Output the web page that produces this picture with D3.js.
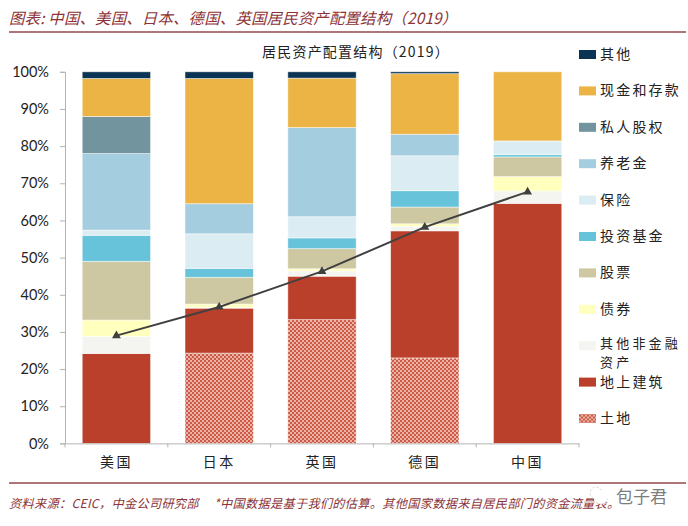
<!DOCTYPE html>
<html>
<head>
<meta charset="utf-8">
<script src="https://cdnjs.cloudflare.com/ajax/libs/d3/7.8.5/d3.min.js"></script>
<style>
  html, body { margin: 0; padding: 0; background: #fff; }
  svg { display: block; }
</style>
</head>
<body>
<svg id="chart" width="688" height="526"></svg>
<script>
// Household asset allocation by country, 2019 (percentage points per asset class)
const countries = ["美国", "日本", "英国", "德国", "中国"];
const land      = [0, 24.3, 33.3, 23.0, 0];
const building  = [24.2, 12.1, 11.7, 34.2, 64.6];
const nonFin    = [4.6, 0.2, 1.4, 1.2, 3.3];
const bonds     = [4.4, 0.9, 0.6, 0.7, 3.9];
const stocks    = [15.8, 7.2, 5.4, 4.5, 5.3];
const funds     = [7.0, 2.4, 2.9, 4.4, 0.6];
const insurance = [1.4, 9.3, 5.7, 9.4, 3.7];
const pension   = [20.6, 8.1, 24.0, 5.8, 0];
const privateEq = [10.0, 0, 0, 0, 0];
const cash      = [10.2, 33.7, 13.3, 16.3, 18.6];
const other     = [1.8, 1.8, 1.7, 0.5, 0];
const landBuildingShare = [29.0, 36.7, 46.3, 58.2, 67.7];
const yTicks = [0, 10, 20, 30, 40, 50, 60, 70, 80, 90, 100];

const seriesNames = ["土地", "地上建筑", "其他非金融资产", "债券", "股票", "投资基金", "保险", "养老金", "私人股权", "现金和存款", "其他"];
const seriesValues = [land, building, nonFin, bonds, stocks, funds, insurance, pension, privateEq, cash, other];
const seriesColors = ["url(#landFill)", "#bb402b", "#f4f5f0", "#ffffbe", "#cdc8a2", "#66c3da", "#dbedf3", "#a5cde0", "#71949e", "#ecb445", "#0b3354"];

const cjk = "'Noto Sans CJK SC', 'Noto Sans', sans-serif";
const svg = d3.select("#chart");

// Checkered fill for the land segments
const pat = svg.append("defs").append("pattern")
  .attr("id", "landFill").attr("patternUnits", "userSpaceOnUse")
  .attr("width", 4).attr("height", 4);
pat.append("rect").attr("width", 4).attr("height", 4).attr("fill", "#eab2a5");
pat.append("rect").attr("width", 2).attr("height", 2).attr("fill", "#cd5a47");
pat.append("rect").attr("x", 2).attr("y", 2).attr("width", 2).attr("height", 2).attr("fill", "#cd5a47");

const x = d3.scaleBand().domain(countries).range([65, 579]).paddingInner(0.335).paddingOuter(0.1675);
const y = d3.scaleLinear().domain([0, 100]).range([443.4, 71.8]);

// Page heading and rules
svg.append("text").attr("x", 9).attr("y", 24)
  .attr("font-family", cjk).attr("font-size", 15.4).attr("font-style", "italic")
  .attr("fill", "#8b3337").attr("letter-spacing", 0.2)
  .text("图表: 中国、美国、日本、德国、英国居民资产配置结构（2019）");
svg.append("line").attr("x1", 9).attr("x2", 686).attr("y1", 32).attr("y2", 32)
  .attr("stroke", "#92484c").attr("stroke-width", 1.6);
svg.append("line").attr("x1", 9).attr("x2", 686).attr("y1", 483).attr("y2", 483)
  .attr("stroke", "#92484c").attr("stroke-width", 1.6);

// Chart title
svg.append("text").attr("x", 356).attr("y", 57).attr("text-anchor", "middle")
  .attr("font-family", cjk).attr("font-size", 14).attr("fill", "#222")
  .attr("letter-spacing", 1.2).text("居民资产配置结构（2019）");

// Stacked bars
const rows = countries.map((c, i) => {
  const r = { country: c };
  seriesNames.forEach((n, s) => { r[n] = seriesValues[s][i]; });
  return r;
});
const stacked = d3.stack().keys(seriesNames)(rows);
svg.append("g").selectAll("g").data(stacked).join("g")
  .attr("fill", (d, i) => seriesColors[i])
  .selectAll("rect").data(d => d.filter(p => p[1] > p[0])).join("rect")
  .attr("x", d => x(d.data.country))
  .attr("width", x.bandwidth())
  .attr("y", d => y(d[1]))
  .attr("height", d => y(d[0]) - y(d[1]))
  .attr("stroke", "#fff").attr("stroke-opacity", 0.6).attr("stroke-width", 0.8);

// Axes
const yAxis = svg.append("g").attr("transform", "translate(65,0)")
  .call(d3.axisLeft(y).tickValues(yTicks).tickFormat(d => d + "%").tickSize(5).tickPadding(11));
const xAxis = svg.append("g").attr("transform", "translate(0,443.4)")
  .call(d3.axisBottom(x).tickSize(0).tickPadding(14));
xAxis.selectAll(".tick text").attr("font-family", cjk).attr("font-size", 14)
  .attr("letter-spacing", 2.5).attr("fill", "#222");
xAxis.selectAll(".boundary").data(d3.range(countries.length + 1)).join("line")
  .attr("class", "boundary")
  .attr("x1", i => x.range()[0] + i * x.step()).attr("x2", i => x.range()[0] + i * x.step())
  .attr("y1", 0).attr("y2", 4).attr("stroke", "#b3b3b3").attr("stroke-width", 1);
yAxis.selectAll(".tick text").attr("font-family", "Lato, 'Open Sans', sans-serif")
  .attr("font-size", 14.5).attr("fill", "#222");
[yAxis, xAxis].forEach(a => {
  a.selectAll(".domain, .tick line").attr("stroke", "#b3b3b3").attr("stroke-width", 1);
});

// Land and building share line
const cx = c => x(c) + x.bandwidth() / 2;
const linePts = countries.map((c, i) => [cx(c), y(landBuildingShare[i])]);
svg.append("path").attr("d", d3.line()(linePts))
  .attr("fill", "none").attr("stroke", "#404040").attr("stroke-width", 2);
svg.append("g").selectAll("path").data(linePts).join("path")
  .attr("d", d3.symbol(d3.symbolTriangle, 34))
  .attr("transform", d => `translate(${d[0]},${d[1]})`)
  .attr("fill", "#404040");

// Legend, top entry first; the long entry wraps onto two tighter lines
const legendOrder = seriesNames.map((n, i) => i).reverse();
const legendY = d3.scalePoint().domain(legendOrder).range([54.5, 418.5]);
const legend = svg.append("g").selectAll("g").data(legendOrder).join("g")
  .attr("transform", d => `translate(579,${legendY(d)})`);
legend.append("rect").attr("y", -4.5).attr("width", 17).attr("height", 9)
  .attr("fill", d => seriesColors[d]);
const isWrapped = d => seriesNames[d].length > 5;
legend.append("text").attr("x", 21)
  .attr("font-family", cjk).attr("fill", "#222")
  .attr("font-size", d => isWrapped(d) ? 13 : 14)
  .attr("letter-spacing", d => isWrapped(d) ? 3.2 : 2.2)
  .selectAll("tspan")
  .data(d => {
    const n = seriesNames[d];
    return isWrapped(d) ? [[n.slice(0, 5), 2], [n.slice(5), 20.9]] : [[n, 4.5]];
  }).join("tspan")
  .attr("x", 21).attr("y", d => d[1]).text(d => d[0]);

// Source note
svg.append("text").attr("x", 9).attr("y", 508)
  .attr("font-family", cjk).attr("font-size", 12.2).attr("font-style", "italic")
  .attr("fill", "#8b3337").attr("letter-spacing", 0.3).attr("xml:space", "preserve")
  .text("资料来源：CEIC，中金公司研究部     *中国数据是基于我们的估算。其他国家数据来自居民部门的资金流量表。");

// Account mark in the lower right corner
const mark = svg.append("g");
mark.append("circle").attr("cx", 596).attr("cy", 493).attr("r", 6).attr("fill", "#fff")
  .attr("stroke", "#bbb").attr("stroke-width", 0.7).attr("stroke-dasharray", "2 2");
mark.append("circle").attr("cx", 601).attr("cy", 497).attr("r", 7).attr("fill", "#fff");
mark.append("text").attr("x", 616).attr("y", 503)
  .attr("font-family", cjk).attr("font-size", 17).attr("fill", "#7d7d7d").text("包子君");
</script>
</body>
</html>
